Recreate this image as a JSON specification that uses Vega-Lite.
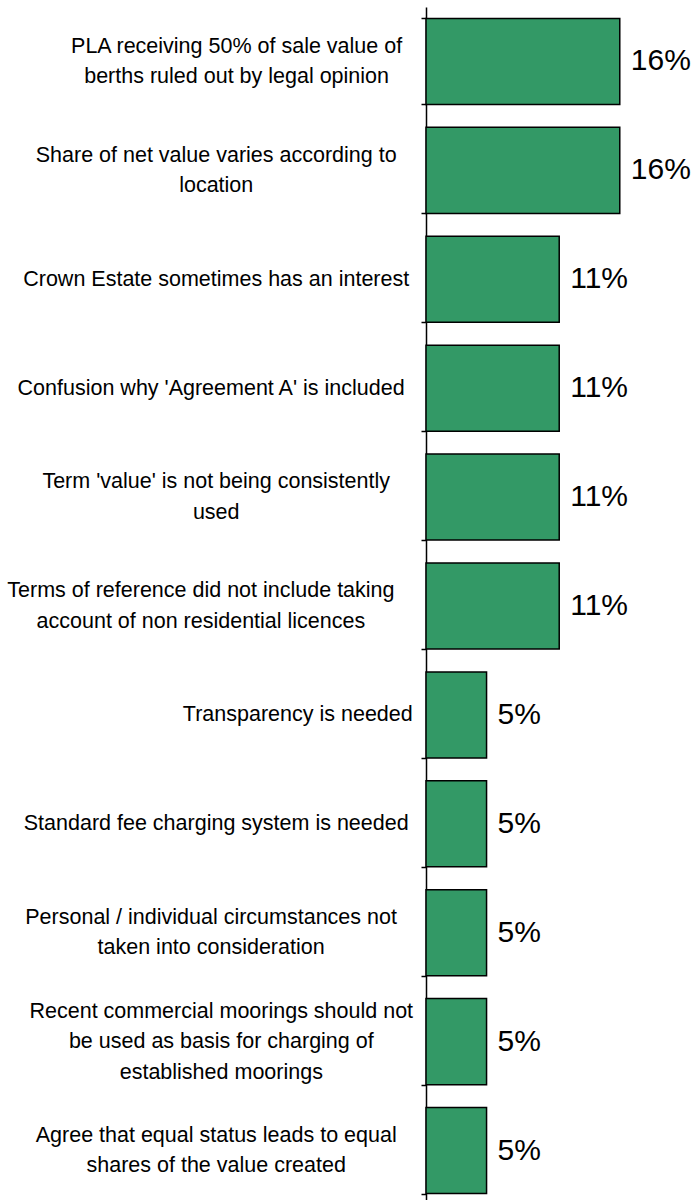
{
  "$schema": "https://vega.github.io/schema/vega-lite/v6.json",
  "autosize": {"type": "none"},
  "padding": {"left": 426, "top": 7, "right": 56, "bottom": 0},
  "width": 218,
  "height": 1198,
  "background": "white",
  "config": {"view": {"stroke": null}},
  "data": {
    "values": [
      {"item": "PLA receiving 50% of sale value of|berths ruled out by legal opinion", "share": 0.16},
      {"item": "Share of net value varies according to|location", "share": 0.16},
      {"item": "Crown Estate sometimes has an interest", "share": 0.11},
      {"item": "Confusion why 'Agreement A' is included", "share": 0.11},
      {"item": "Term 'value' is not being consistently|used", "share": 0.11},
      {"item": "Terms of reference did not include taking|account of non residential licences", "share": 0.11},
      {"item": "Transparency is needed", "share": 0.05},
      {"item": "Standard fee charging system is needed", "share": 0.05},
      {"item": "Personal / individual circumstances not|taken into consideration", "share": 0.05},
      {"item": "Recent commercial moorings should not|be used as basis for charging of|established moorings", "share": 0.05},
      {"item": "Agree that equal status leads to equal|shares of the value created", "share": 0.05}
    ]
  },
  "encoding": {
    "y": {
      "field": "item",
      "type": "nominal",
      "sort": null,
      "scale": {"paddingInner": 0.21, "paddingOuter": 0.105},
      "axis": {
        "title": null,
        "domainColor": "black",
        "domainWidth": 1.5,
        "tickColor": "black",
        "tickWidth": 1.5,
        "tickSize": 5,
        "tickBand": "extent",
        "grid": false,
        "labelExpr": "split(datum.label, '|')",
        "labelAlign": "center",
        "labelBaseline": "middle",
        "labelFont": "Liberation Sans",
        "labelFontSize": 21.5,
        "labelLineHeight": 30.5,
        "labelColor": "black",
        "labelLimit": 1000,
        "labelOverlap": false,
        "labelPadding": {
          "condition": {
            "test": "true",
            "expr": "11.5 + 5.1 * max(length(split(datum.value, '|')[0]), length(split(datum.value, '|')[1] || ''), length(split(datum.value, '|')[2] || ''))"
          },
          "value": 11
        },
        "labelOffset": {
          "condition": {
            "test": "true",
            "expr": "-15.25 * (length(split(datum.value, '|')) - 1)"
          },
          "value": 0
        }
      }
    },
    "x": {
      "field": "share",
      "type": "quantitative",
      "scale": {"domain": [0, 0.18], "nice": false},
      "axis": null
    }
  },
  "layer": [
    {
      "mark": {"type": "bar", "fill": "#339966", "stroke": "black", "strokeWidth": 1.5}
    },
    {
      "mark": {
        "type": "text",
        "align": "left",
        "baseline": "middle",
        "dx": 11,
        "font": "Liberation Sans",
        "fontSize": 30,
        "color": "black"
      },
      "encoding": {
        "text": {"field": "share", "type": "quantitative", "format": ".0%"}
      }
    }
  ]
}
